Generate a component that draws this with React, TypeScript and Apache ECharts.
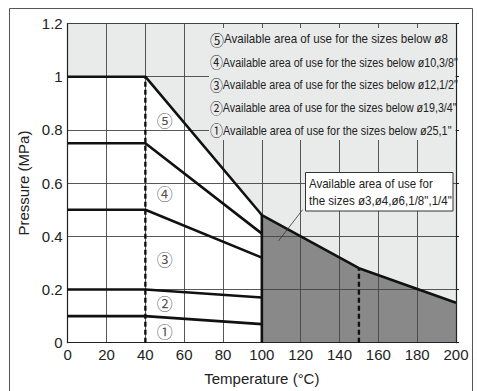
import React, { useEffect, useRef } from "react";
import * as echarts from "echarts";

// Temperature (°C) / pressure (MPa) data
const envelopeX = [0, 40, 100, 150, 200];
const envelopeY = [1.0, 1.0, 0.48, 0.28, 0.15];
const lineX = [0, 40, 100];
const line4 = [0.75, 0.75, 0.41];
const line3 = [0.5, 0.5, 0.32];
const line2 = [0.2, 0.2, 0.17];
const line1 = [0.1, 0.1, 0.07];
const dashedX = [40, 150];
const dashedTop = [1.0, 0.28];
const splitX = 100;
const splitTop = 0.48;
const zoneLabels = ["①", "②", "③", "④", "⑤"];
const zoneLabelY = [0.045, 0.15, 0.315, 0.563, 0.837];
const zoneLabelX = 50;
const legendTexts = [
  "⑤Available area of use for the sizes below ø8",
  "④Available area of use for the sizes below ø10,3/8\"",
  "③Available area of use for the sizes below ø12,1/2\"",
  "②Available area of use for the sizes below ø19,3/4\"",
  "①Available area of use for the sizes below ø25,1\"",
];
const legendWidths = [238, 248, 248, 247, 242];
const noteTexts = ["Available area of use for", "the sizes ø3,ø4,ø6,1/8\",1/4\""];
const noteWidths = [124, 143];
const noteFrom = [121, 0.5];
const noteTo = [108.6, 0.383];

const FONT = "'Liberation Sans', Arial, 'Noto Sans CJK JP', 'DejaVu Sans', sans-serif";
const CJK = "'Noto Sans CJK JP', 'DejaVu Sans', sans-serif";

const measure = (text: string, size: number, family: string) => {
  const c = document.createElement("canvas").getContext("2d");
  if (!c) return text.length * size * 0.5;
  c.font = `${size}px ${family}`;
  return c.measureText(text).width;
};

export default function App() {
  const ref = useRef<HTMLDivElement>(null);
  useEffect(() => {
    if (!ref.current) return;
    const chart = echarts.init(ref.current, null, { renderer: "svg" });
    const zip = (xs: number[], ys: number[]) => xs.map((x, i) => [x, ys[i]]);
    const env = zip(envelopeX, envelopeY);
    const black = "#111";
    const thick = 2.6;
    const lineSeries = (data: number[][], style: any = {}) => ({
      type: "line",
      data,
      symbol: "none",
      silent: true,
      z: 5,
      lineStyle: { color: black, width: thick, ...style },
    });
    const series: any[] = [
      {
        type: "line",
        data: [
          [0, 1.2],
          [200, 1.2],
        ],
        symbol: "none",
        silent: true,
        z: 1,
        lineStyle: { width: 0 },
        areaStyle: { color: "#e9eaea", opacity: 1 },
      },
      {
        type: "line",
        data: env.filter((p) => p[0] <= splitX),
        symbol: "none",
        silent: true,
        z: 1,
        lineStyle: { width: 0 },
        areaStyle: { color: "#ffffff", opacity: 1 },
      },
      {
        type: "line",
        data: env.filter((p) => p[0] >= splitX),
        symbol: "none",
        silent: true,
        z: 1,
        lineStyle: { width: 0 },
        areaStyle: { color: "#898989", opacity: 1 },
      },
      lineSeries(env),
      lineSeries(zip(lineX, line4)),
      lineSeries(zip(lineX, line3)),
      lineSeries(zip(lineX, line2)),
      lineSeries(zip(lineX, line1)),
      lineSeries([
        [splitX, 0],
        [splitX, splitTop],
      ]),
      ...dashedX.map((x, i) =>
        lineSeries(
          [
            [x, 0],
            [x, dashedTop[i]],
          ],
          { width: 2.4, type: [5, 3] }
        )
      ),
      {
        type: "line",
        data: [noteFrom, noteTo],
        symbol: "none",
        silent: true,
        z: 5,
        lineStyle: { color: "#333", width: 0.8 },
      },
      {
        type: "scatter",
        data: zoneLabels.map((n, i) => ({ name: n, value: [zoneLabelX, zoneLabelY[i]] })),
        symbolSize: 0,
        silent: true,
        z: 6,
        label: {
          show: true,
          position: "inside",
          formatter: (p: any) => p.name,
          fontFamily: CJK,
          fontSize: 16,
          color: "#222",
        },
      },
    ];

    const TXT = 12.5;
    const DIG = 15;
    const graphic: any[] = [
      {
        type: "rect",
        shape: { x: 9.5, y: 8.5, width: 463, height: 400 },
        style: { fill: "none", stroke: "#555", lineWidth: 1 },
        z: 100,
      },
      {
        type: "rect",
        shape: { x: 209, y: 28, width: 246.5, height: 112 },
        style: { fill: "#e9eaea", stroke: "none" },
        z: 100,
      },
      ...legendTexts.map((t, i) => {
        const digit = t.slice(0, 1);
        const rest = t.slice(1);
        const w = measure(digit, DIG, CJK) + measure(rest, TXT, FONT);
        return {
          type: "group",
          x: 210,
          y: 39 + i * 22.75,
          scaleX: legendWidths[i] / w,
          z: 101,
          children: [
            {
              type: "text",
              z: 101,
              style: {
                text: `{c|${digit}}${rest}`,
                fontFamily: FONT,
                fontSize: TXT,
                fill: "#222",
                verticalAlign: "middle",
                align: "left",
                rich: { c: { fontFamily: CJK, fontSize: DIG, fill: "#222" } },
              },
            },
          ],
        };
      }),
      {
        type: "rect",
        shape: { x: 305.5, y: 172.5, width: 147.5, height: 38.5 },
        style: { fill: "#fff", stroke: "#333", lineWidth: 1 },
        z: 100,
      },
      ...noteTexts.map((t, i) => ({
        type: "group",
        x: 309,
        y: 183.5 + i * 17.7,
        scaleX: noteWidths[i] / measure(t, TXT, FONT),
        z: 101,
        children: [
          {
            type: "text",
            z: 101,
            style: {
              text: t,
              fontFamily: FONT,
              fontSize: TXT,
              fill: "#222",
              verticalAlign: "middle",
              align: "left",
            },
          },
        ],
      })),
    ];

    chart.setOption({
      animation: false,
      backgroundColor: "#fff",
      grid: { left: 67.7, right: 21, top: 23.5, bottom: 48.3, containLabel: false },
      xAxis: [
        {
          type: "value",
          min: 0,
          max: 200,
          interval: 20,
          z: 3,
          name: "Temperature (°C)",
          nameLocation: "middle",
          nameGap: 28,
          nameTextStyle: { fontFamily: FONT, fontSize: 15, color: "#222" },
          axisLine: { show: true, lineStyle: { color: "#222", width: 1.2 } },
          axisTick: { show: false },
          axisLabel: { fontFamily: FONT, fontSize: 15, color: "#222", margin: 4 },
          splitLine: { show: true, lineStyle: { color: "#444", width: 0.9 } },
        },
        {
          type: "value",
          position: "top",
          min: 0,
          max: 200,
          interval: 20,
          z: 3,
          axisLine: { show: true, onZero: false, lineStyle: { color: "#444", width: 1 } },
          axisTick: { show: false },
          axisLabel: { show: false },
          splitLine: { show: false },
        },
      ],
      yAxis: [
        {
          type: "value",
          min: 0,
          max: 1.2,
          interval: 0.2,
          z: 3,
          name: "Pressure (MPa)",
          nameLocation: "middle",
          nameGap: 36,
          nameTextStyle: { fontFamily: FONT, fontSize: 15, color: "#222" },
          axisLine: { show: true, lineStyle: { color: "#222", width: 1.2 } },
          axisTick: { show: false },
          axisLabel: { fontFamily: FONT, fontSize: 15, color: "#222", margin: 5 },
          splitLine: { show: true, lineStyle: { color: "#444", width: 0.9 } },
        },
        {
          type: "value",
          position: "right",
          min: 0,
          max: 1.2,
          interval: 0.2,
          z: 3,
          axisLine: { show: true, onZero: false, lineStyle: { color: "#222", width: 1.2 } },
          axisTick: { show: true, inside: false, length: 3, lineStyle: { color: "#222" } },
          axisLabel: { show: false },
          splitLine: { show: false },
        },
      ],
      series,
      graphic,
    });
    return () => chart.dispose();
  }, []);
  return (
    <div
      ref={ref}
      style={{ position: "fixed", left: 0, top: 0, width: 477, height: 391 }}
    />
  );
}
